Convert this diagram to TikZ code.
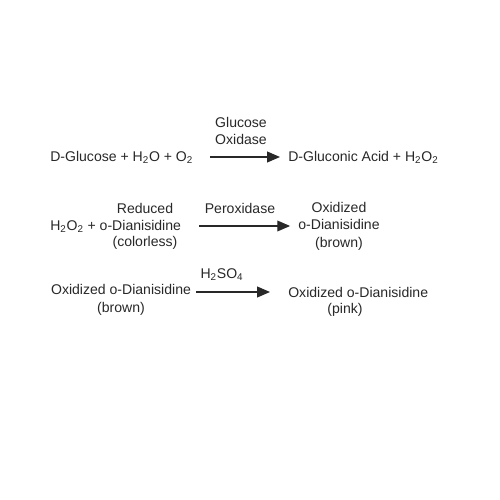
\documentclass[tikz,border=0pt]{standalone}
\usepackage{fontspec}
\setmainfont{Liberation Sans}
\usepackage{tikz}
\usetikzlibrary{arrows.meta,calc,positioning}
\definecolor{InkGray}{RGB}{40,40,40}
\newcommand{\sub}[1]{\textsubscript{#1}}

\begin{document}
\begin{tikzpicture}[x=0.25mm,y=-0.25mm,>={Triangle[length=3.2mm,width=2.7mm]},
  chem/.style={inner sep=0pt,text=InkGray,font=\fontsize{10}{12.4}\selectfont},
  rxn/.style={->,line width=0.8pt,InkGray}]
\useasboundingbox (0,0) rectangle (500,500);
% row 1: glucose oxidase
\node[chem,anchor=west] (glc) at (50,157) {D-Glucose + H\sub{2}O + O\sub{2}};
\node[chem,anchor=west] (gla) at (288,157) {D-Gluconic Acid + H\sub{2}O\sub{2}};
\node[chem,align=center] (god) at (241,131) {Glucose\\Oxidase};
\draw[rxn,shorten <=4.25mm,shorten >=2mm] (glc.east) -- (gla.west);
% row 2: peroxidase
\node[chem,anchor=west] (odr) at (50,226) {H\sub{2}O\sub{2} + o-Dianisidine};
\node[chem] (red) at (145,208) {Reduced};
\node[chem] (cls) at (145,243) {(colorless)};
\node[chem,align=center] (odo) at (339,226) {Oxidized\\o-Dianisidine\\(brown)};
\node[chem] (pod) at (240,208) {Peroxidase};
\draw[rxn,shorten <=4.5mm,shorten >=2mm] (odr.east) -- (odo.west);
% row 3: sulfuric acid
\node[chem,align=center] (odb) at (121,300) {Oxidized o-Dianisidine\\(brown)};
\node[chem,anchor=west] (odp) at (288,292) {Oxidized o-Dianisidine};
\node[chem] (pnk) at (345,310) {(pink)};
\node[chem] (acid) at (222,275) {H\sub{2}SO\sub{4}};
\draw[rxn,shorten <=1.25mm,shorten >=4.5mm] (odb.east |- odp.west) -- (odp.west);
\end{tikzpicture}
\end{document}
